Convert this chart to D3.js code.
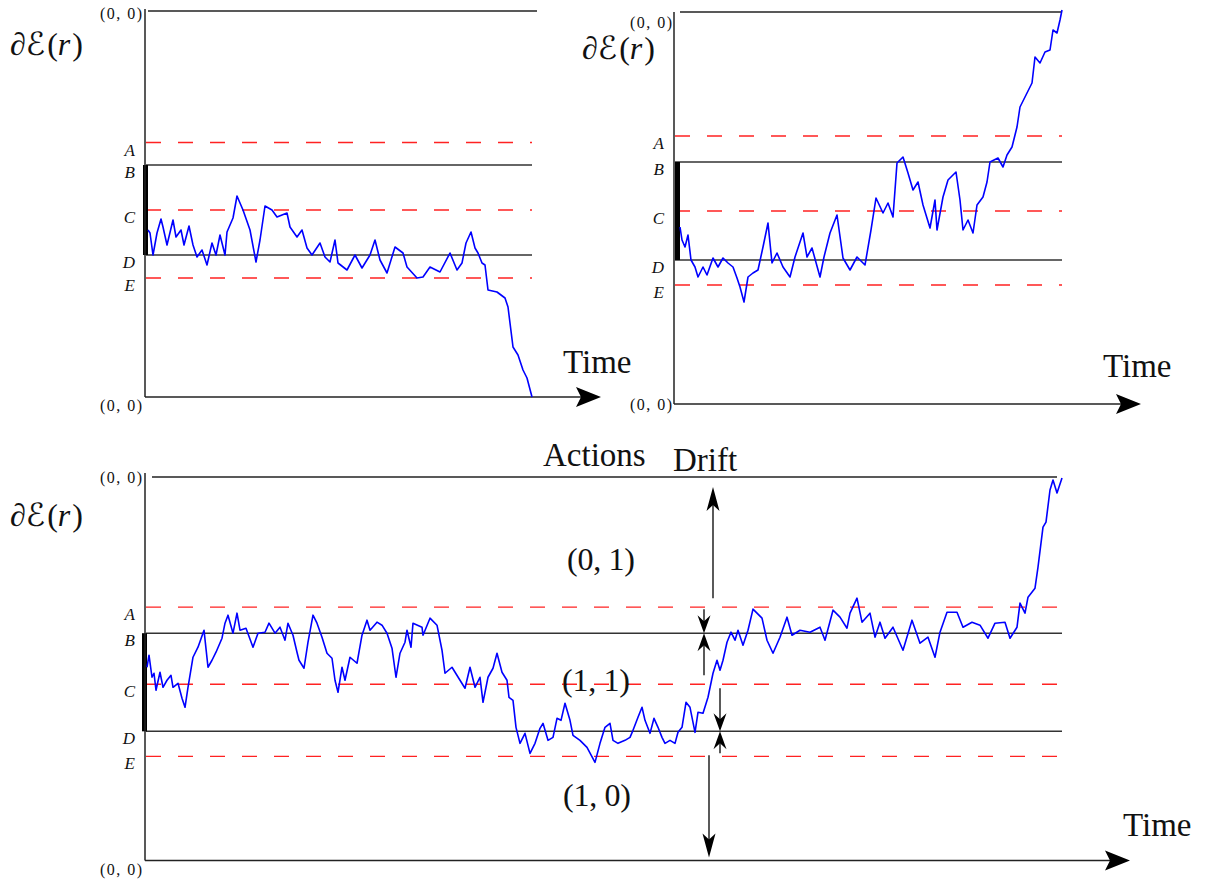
<!DOCTYPE html>
<html>
<head>
<meta charset="utf-8">
<script src="https://cdn.jsdelivr.net/npm/d3@7"></script>
<style>
  body { margin: 0; background: #fff; }
  svg { display: block; }
</style>
</head>
<body>
<svg id="chart" width="1206" height="884"></svg>
<script>
// level names and which ones are drawn dashed
const levelNames = ['A', 'B', 'C', 'D', 'E'];
const levelDashed = [true, false, true, false, true];

// levels, as height above the time axis (same units as the paths)
const levelsTopLeft = [254.5, 232, 187, 142, 119];
const levelsTopRight = [268, 242, 193, 144, 119];
const levelsBottom = [253, 227, 176, 129, 104];

// [time, value]
const pathTopLeft = [
    [3,167],[5,164],[8,142],[12,164],[16,178],[18,170],[22,152],[28,177],[31,160],[36,167],
    [39,152],[44,171],[48,152],[52,140],[57,147],[62,132],[67,154],[71,142],[75,162],[80,142],
    [82,165],[88,179],[92,201],[98,187],[105,167],[111,135],[115,157],[120,191],[127,187],[132,180],
    [142,184],[145,170],[152,160],[157,167],[162,149],[167,142],[175,154],[180,140],[185,135],[190,157],
    [193,134],[202,127],[210,142],[217,129],[225,142],[230,157],[235,137],[242,124],[250,150],[258,144],
    [262,130],[272,119],[278,120],[285,130],[295,125],[305,144],[312,127],[317,134],[321,154],[326,165],
    [330,149],[333,144],[337,134],[340,132],[343,107],[352,105],[360,99],[363,90],[368,50],[373,42],
    [378,27],[382,19],[387,0]
];

const pathTopRight = [
    [6,177],[8,164],[11,157],[14,169],[17,144],[21,137],[24,127],[29,137],[33,129],[39,146],
    [44,137],[49,146],[54,141],[59,137],[63,126],[66,117],[70,102],[74,127],[79,131],[84,134],
    [89,157],[94,181],[98,141],[103,151],[109,137],[116,127],[121,147],[129,171],[133,147],[138,156],
    [146,127],[150,147],[156,171],[163,189],[169,146],[176,134],[183,147],[191,139],[197,174],[202,206],
    [209,191],[214,201],[219,187],[223,241],[229,247],[234,231],[239,214],[244,222],[249,199],[256,176],
    [261,204],[263,174],[269,207],[274,224],[282,232],[286,204],[289,174],[294,184],[299,171],[303,199],
    [309,207],[313,222],[316,242],[324,246],[329,237],[333,249],[338,257],[343,277],[346,297],[353,311],
    [358,321],[361,347],[366,341],[371,352],[376,354],[379,374],[383,371],[386,384],[388,394]
];

const pathBottom = [
    [2,193],[4,205],[7,183],[9,187],[11,170],[15,188],[18,173],[22,180],[26,185],[28,173],
    [33,177],[37,162],[40,153],[43,173],[48,203],[53,213],[59,230],[63,193],[67,200],[71,208],
    [77,222],[80,237],[83,245],[88,227],[92,247],[95,230],[101,232],[108,213],[113,227],[120,228],
    [124,237],[130,227],[135,233],[140,220],[143,237],[148,225],[152,208],[154,200],[159,192],[163,218],
    [168,245],[172,237],[177,223],[182,207],[187,202],[190,180],[193,168],[197,193],[200,180],[205,203],
    [212,197],[217,225],[222,240],[225,230],[232,238],[237,235],[242,227],[247,212],[251,183],[255,207],
    [260,218],[262,230],[266,213],[268,237],[277,233],[278,225],[285,242],[292,235],[297,210],[300,187],
    [307,193],[315,180],[320,172],[325,193],[330,173],[335,183],[338,158],[343,183],[348,192],[352,207],
    [357,188],[362,180],[364,163],[368,160],[371,133],[375,117],[380,127],[385,107],[390,117],[395,132],
    [398,137],[403,120],[408,123],[412,142],[416,140],[420,157],[425,140],[428,125],[435,120],[442,113],
    [450,98],[455,117],[460,133],[465,137],[468,120],[473,117],[480,120],[485,123],[488,130],[493,143],
    [497,153],[500,140],[505,127],[509,142],[513,133],[517,123],[520,117],[525,120],[530,117],[533,128],
    [537,133],[541,158],[545,153],[550,128],[553,148],[558,147],[563,163],[568,187],[572,200],[575,190],
    [578,200],[582,218],[586,228],[590,220],[593,230],[598,215],[603,230],[608,251],[617,242],[622,220],
    [628,207],[635,223],[642,243],[647,225],[655,230],[665,228],[675,233],[680,220],[688,250],[695,243],
    [702,232],[705,247],[712,262],[717,238],[725,247],[730,223],[735,238],[740,222],[748,233],[758,210],
    [767,240],[775,217],[783,223],[790,203],[795,228],[802,248],[812,248],[818,233],[827,238],[835,235],
    [843,222],[850,237],[860,238],[865,222],[872,233],[875,257],[880,247],[883,263],[890,272],[893,293],
    [898,333],[901,338],[905,370],[908,380],[912,367],[917,382]
];

// drift arrows on the bottom panel: time, from value, to value
const driftArrows = [
    { t: 568, from: 262, to: 373 },
    { t: 559, from: 251, to: 227 },
    { t: 559, from: 185, to: 227 },
    { t: 575, from: 172, to: 129 },
    { t: 575, from: 107, to: 129 },
    { t: 564, from: 105, to: 3 }
];

// action labels on the bottom panel
const actionNames = ['(0, 1)', '(1, 1)', '(1, 0)'];
const actionTimes = [456, 451, 452];
const actionValues = [290, 169, 54];

const SERIF = "'Liberation Serif', 'DejaVu Serif', serif";
const COLOR_AXIS = '#222';
const COLOR_LEVEL = '#333';
const COLOR_DASH = '#f22';
const COLOR_PATH = '#0000ff';

const svg = d3.select('#chart');

const panels = [
    {
        levels: levelsTopLeft, path: pathTopLeft, tMax: 387, vMax: 386,
        left: 145, right: 532, bottom: 397, top: 11, axisTop: 9,
        topLine: [148, 537], arrowTip: 601, barDx: -2,
        yLabel: [10, 55], timeLabel: [563, 373], zeroTop: [142, 19], zeroBottom: [142, 411]
    },
    {
        levels: levelsTopRight, path: pathTopRight, tMax: 388, vMax: 392,
        left: 674, right: 1062, bottom: 404, top: 12, axisTop: 12,
        topLine: [680, 1062], arrowTip: 1141, barDx: 1,
        yLabel: [582, 59], timeLabel: [1103, 377], zeroTop: [672, 28], zeroBottom: [672, 410]
    },
    {
        levels: levelsBottom, path: pathBottom, tMax: 917, vMax: 383,
        left: 145, right: 1062, bottom: 860.5, top: 477, axisTop: 473,
        topLine: [152, 1057], arrowTip: 1130, barDx: -3,
        yLabel: [10, 526], timeLabel: [1123, 836], zeroTop: [142, 483], zeroBottom: [142, 875]
    }
];

// concave (stealth-like) arrowhead with tip at (x, y) pointing along (dx, dy)
function arrowHead(g, x, y, dx, dy, len, half, notch) {
    const n = Math.hypot(dx, dy);
    const ux = dx / n, uy = dy / n;
    const px = -uy, py = ux;
    const bx = x - ux * len, by = y - uy * len;
    const pts = [
        [x, y],
        [bx + px * half, by + py * half],
        [bx + ux * notch, by + uy * notch],
        [bx - px * half, by - py * half]
    ];
    g.append('path')
        .attr('d', 'M' + pts.map(p => p.join(',')).join('L') + 'Z')
        .attr('fill', '#000');
}

function drawPanel(p) {
    const g = svg.append('g');
    const x = d3.scaleLinear().domain([0, p.tMax]).range([p.left, p.right]);
    const y = d3.scaleLinear().domain([0, p.vMax]).range([p.bottom, p.top]);

    // top line
    g.append('line')
        .attr('x1', p.topLine[0]).attr('x2', p.topLine[1])
        .attr('y1', y(p.vMax)).attr('y2', y(p.vMax))
        .attr('stroke', COLOR_AXIS).attr('stroke-width', 1.4);

    // levels
    p.levels.forEach(function (v, i) {
        g.append('line')
            .attr('x1', x(0) + 1).attr('x2', x(p.tMax))
            .attr('y1', y(v)).attr('y2', y(v))
            .attr('stroke', levelDashed[i] ? COLOR_DASH : COLOR_LEVEL)
            .attr('stroke-width', levelDashed[i] ? 1.3 : 1.5)
            .attr('stroke-dasharray', levelDashed[i] ? '15,17' : null);

        g.append('text')
            .text(levelNames[i])
            .attr('x', x(0) - 10)
            .attr('y', y(v) + 13)
            .attr('text-anchor', 'end')
            .attr('font-family', SERIF)
            .attr('font-style', 'italic')
            .attr('font-size', 17)
            .attr('fill', '#111');
    });

    // thick bar between B and D
    g.append('rect')
        .attr('x', x(0) + p.barDx)
        .attr('y', y(p.levels[1]))
        .attr('width', 5)
        .attr('height', y(p.levels[3]) - y(p.levels[1]))
        .attr('fill', '#000');

    // y axis
    g.append('line')
        .attr('x1', x(0)).attr('x2', x(0))
        .attr('y1', p.axisTop).attr('y2', y(0))
        .attr('stroke', COLOR_AXIS).attr('stroke-width', 1.5);

    // time axis with arrow
    g.append('line')
        .attr('x1', x(0)).attr('x2', p.arrowTip - 6)
        .attr('y1', y(0)).attr('y2', y(0))
        .attr('stroke', COLOR_AXIS).attr('stroke-width', 1.6);
    arrowHead(g, p.arrowTip, y(0), 1, 0, 25, 10, 5);

    // path
    g.append('path')
        .datum(p.path)
        .attr('d', d3.line().x(d => x(d[0])).y(d => y(d[1])))
        .attr('fill', 'none')
        .attr('stroke', COLOR_PATH)
        .attr('stroke-width', 1.6)
        .attr('stroke-linejoin', 'round');

    // labels
    const yl = g.append('text')
        .attr('x', p.yLabel[0]).attr('y', p.yLabel[1])
        .attr('font-family', SERIF)
        .attr('font-size', 32)
        .attr('fill', '#111');
    yl.append('tspan').text('\u2202');
    yl.append('tspan').text('\u2130').attr('font-family', "'DejaVu Serif', 'DejaVu Sans', serif").attr('font-style', 'italic');
    yl.append('tspan').text('(').attr('dx', 2);
    yl.append('tspan').text('r').attr('font-style', 'italic');
    yl.append('tspan').text(')').attr('dx', 2);

    g.append('text')
        .text('Time')
        .attr('x', p.timeLabel[0]).attr('y', p.timeLabel[1])
        .attr('font-family', SERIF)
        .attr('font-size', 33)
        .attr('fill', '#111');

    [p.zeroTop, p.zeroBottom].forEach(function (pos) {
        g.append('text')
            .text('(0, 0)')
            .attr('x', pos[0]).attr('y', pos[1])
            .attr('text-anchor', 'end')
            .attr('font-family', SERIF)
            .attr('font-size', 16)
            .attr('textLength', 42)
            .attr('lengthAdjust', 'spacing')
            .attr('fill', '#111');
    });

    return { g: g, x: x, y: y };
}

const drawn = panels.map(drawPanel);

// bottom panel extras
const bp = drawn[2];

driftArrows.forEach(function (a) {
    const dir = a.to > a.from ? -1 : 1;
    bp.g.append('line')
        .attr('x1', bp.x(a.t)).attr('x2', bp.x(a.t))
        .attr('y1', bp.y(a.from)).attr('y2', bp.y(a.to) - dir * 6)
        .attr('stroke', '#000')
        .attr('stroke-width', 1.3);
    const len = Math.abs(bp.y(a.to) - bp.y(a.from)) > 60 ? 24 : 18;
    arrowHead(bp.g, bp.x(a.t), bp.y(a.to), 0, dir, len, 6.5, 6);
});

actionNames.forEach(function (name, i) {
    bp.g.append('text')
        .text(name)
        .attr('x', bp.x(actionTimes[i]))
        .attr('y', bp.y(actionValues[i]))
        .attr('text-anchor', 'middle')
        .attr('font-family', SERIF)
        .attr('font-size', 32)
        .attr('textLength', 68)
        .attr('lengthAdjust', 'spacing')
        .attr('fill', '#111');
});

svg.append('text')
    .text('Actions')
    .attr('x', 543).attr('y', 466)
    .attr('font-family', SERIF)
    .attr('font-size', 33)
    .attr('fill', '#111');

svg.append('text')
    .text('Drift')
    .attr('x', 673).attr('y', 471)
    .attr('font-family', SERIF)
    .attr('font-size', 33)
    .attr('fill', '#111');
</script>
</body>
</html>
